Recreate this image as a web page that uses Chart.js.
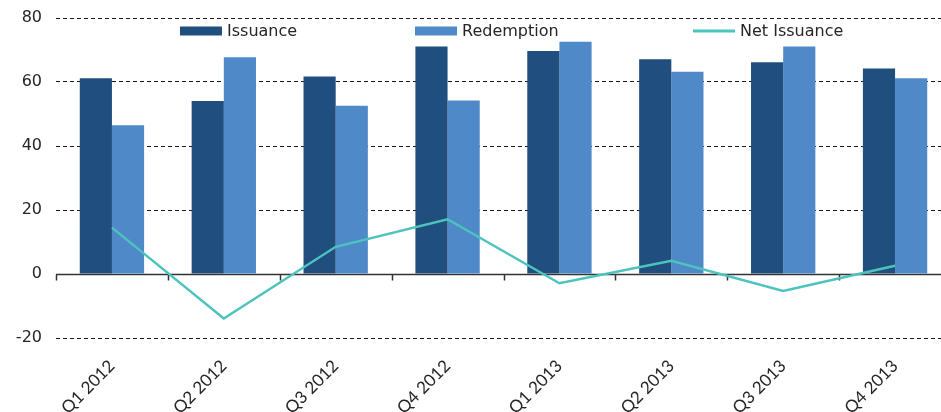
<!DOCTYPE html>
<html>
<head>
<meta charset="utf-8">
<script src="https://cdn.jsdelivr.net/npm/chart.js@4"></script>
<style>
  html, body { margin: 0; padding: 0; overflow: hidden; background: #fff; }
  #wrap { position: relative; width: 951px; height: 412px; }
</style>
</head>
<body>
<div id="wrap"><canvas id="c"></canvas></div>
<script>
// Quarterly issuance vs redemption (bn) and the resulting net issuance
const quarters = ['Q1 2012', 'Q2 2012', 'Q3 2012', 'Q4 2012', 'Q1 2013', 'Q2 2013', 'Q3 2013', 'Q4 2013'];
const issuance = [61.2, 54.1, 61.7, 71.1, 69.7, 67.1, 66.2, 64.2];
const redemption = [46.5, 67.7, 52.6, 54.2, 72.6, 63.2, 71.1, 61.2];
const netIssuance = [14.5, -13.9, 8.5, 17.1, -2.9, 4.1, -5.3, 2.6];
const yTicks = [-20, 0, 20, 40, 60, 80];

const FONT = '"DejaVu Sans", Verdana, sans-serif';
const XFONT = 'Lato, "Open Sans", sans-serif';
const TEXT = '#262626';
const C_ISS = '#1F4E7F';
const C_RED = '#4F89C7';
const C_NET = '#4CC3BD';

// Solid zero axis with category tick marks, drawn under the net line
const zeroAxis = {
  id: 'zeroAxis',
  beforeDatasetsDraw(chart) {
    const { ctx, chartArea, scales: { x, y } } = chart;
    const y0 = Math.round(y.getPixelForValue(0)) + 0.5;
    ctx.save();
    ctx.strokeStyle = '#333';
    ctx.lineWidth = 1.5;
    ctx.beginPath();
    ctx.moveTo(chartArea.left, y0);
    ctx.lineTo(chartArea.right, y0);
    for (let i = 0; i <= quarters.length; i++) {
      const px = Math.round(x.getPixelForValue(i - 0.5)) + 0.5;
      ctx.moveTo(px, y0);
      ctx.lineTo(px, y0 + 6);
    }
    ctx.stroke();
    ctx.restore();
  }
};

// Legend laid out inside the plot, just under the top gridline
const innerLegend = {
  id: 'innerLegend',
  afterDraw(chart) {
    const { ctx } = chart;
    const items = [
      { label: chart.data.datasets[1].label, color: C_ISS, type: 'box', x: 180 },
      { label: chart.data.datasets[2].label, color: C_RED, type: 'box', x: 415 },
      { label: chart.data.datasets[0].label, color: C_NET, type: 'line', x: 693 }
    ];
    const cy = 31;
    ctx.save();
    ctx.font = '16px ' + FONT;
    ctx.textBaseline = 'middle';
    items.forEach(it => {
      if (it.type === 'box') {
        ctx.fillStyle = it.color;
        ctx.fillRect(it.x, cy - 4.5, 42, 9);
      } else {
        ctx.strokeStyle = it.color;
        ctx.lineWidth = 3;
        ctx.beginPath();
        ctx.moveTo(it.x, cy);
        ctx.lineTo(it.x + 42, cy);
        ctx.stroke();
      }
      ctx.fillStyle = TEXT;
      ctx.fillText(it.label, it.x + 47, cy + 1);
    });
    ctx.restore();
  }
};

new Chart(document.getElementById('c'), {
  data: {
    labels: quarters,
    datasets: [
      {
        type: 'line',
        label: 'Net Issuance',
        data: netIssuance,
        borderColor: C_NET,
        borderWidth: 2.5,
        pointRadius: 0,
        tension: 0,
        order: 0
      },
      {
        type: 'bar',
        label: 'Issuance',
        data: issuance,
        backgroundColor: C_ISS,
        barPercentage: 1,
        categoryPercentage: 0.575,
        order: 1
      },
      {
        type: 'bar',
        label: 'Redemption',
        data: redemption,
        backgroundColor: C_RED,
        barPercentage: 1,
        categoryPercentage: 0.575,
        order: 1
      }
    ]
  },
  options: {
    responsive: true,
    maintainAspectRatio: false,
    animation: false,
    layout: { padding: { top: 18, left: 0, right: 0, bottom: 0 } },
    plugins: {
      legend: { display: false },
      tooltip: { enabled: false },
      title: { display: false }
    },
    scales: {
      x: {
        grid: { display: false },
        border: { display: false },
        ticks: {
          color: TEXT,
          font: { family: XFONT, size: 17 },
          minRotation: 45,
          maxRotation: 45,
          padding: 10
        },
        afterFit(scale) {
          scale.height = 74;
          scale.paddingLeft = 0;
          scale.paddingRight = 0;
        }
      },
      y: {
        min: -20,
        max: 80,
        border: { display: false, dash: [4, 3] },
        grid: {
          drawTicks: false,
          lineWidth: 1,
          color: (c) => (c.tick && c.tick.value === 0 ? 'rgba(0,0,0,0)' : '#1a1a1a')
        },
        ticks: {
          color: TEXT,
          font: { family: FONT, size: 16 },
          padding: 14
        },
        afterBuildTicks(scale) { scale.ticks = yTicks.map(v => ({ value: v })); },
        afterFit(scale) {
          scale.width = 56;
          scale.paddingTop = 0;
          scale.paddingBottom = 0;
        }
      }
    }
  },
  plugins: [zeroAxis, innerLegend]
});
</script>
</body>
</html>
